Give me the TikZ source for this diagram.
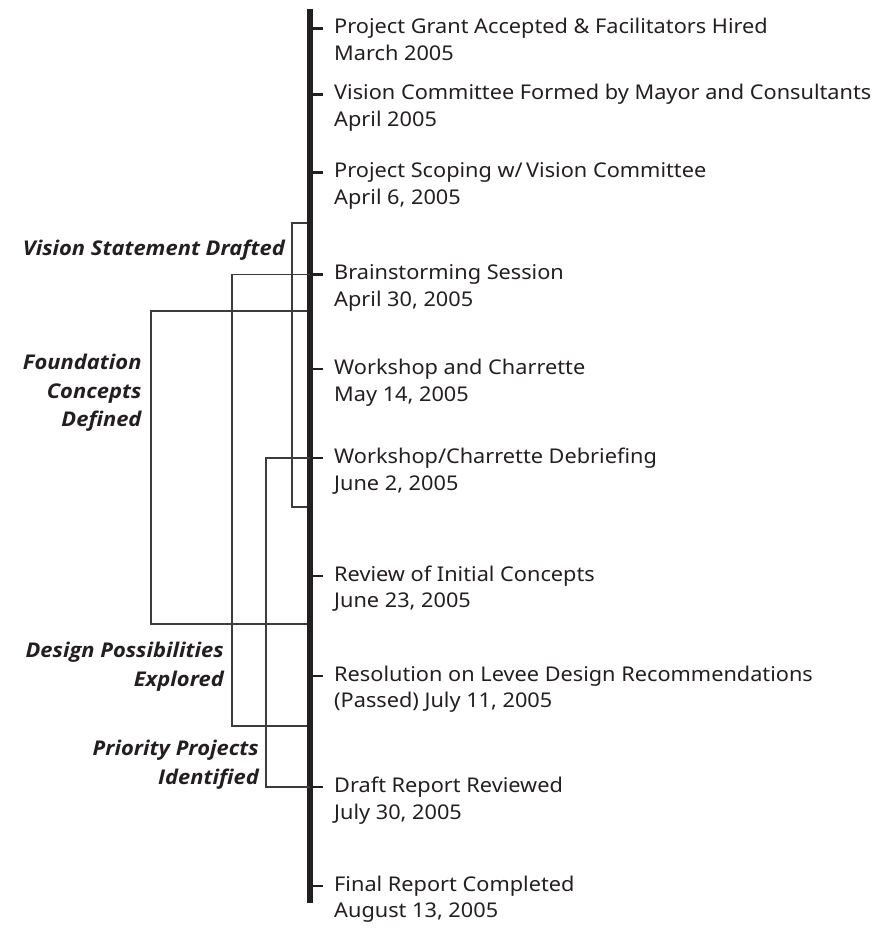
\documentclass[tikz,border=0pt]{standalone}
\usepackage{fontspec}
\setmainfont{Noto Sans}[FakeStretch=1.07]
\newfontfamily\phasefont{Open Sans}[FakeStretch=1.08]
\definecolor{ink}{HTML}{231F20}
\definecolor{brk}{HTML}{3C3C3C}
\begin{document}
\begin{tikzpicture}[x=1pt,y=-1pt,
  spine/.style={draw=ink,line width=6pt},
  tick/.style={draw=ink,line width=2.4pt},
  bracket/.style={draw=brk,line width=1.3pt},
  event/.style={anchor=base west,align=left,inner sep=0pt,text=ink,
    font=\fontsize{20.3}{26.5}\selectfont},
  phase/.style={anchor=base east,align=right,inner sep=0pt,text=ink,
    font=\phasefont\fontsize{20.3}{28.5}\selectfont\bfseries\itshape}]
\useasboundingbox (0,0) rectangle (894,930);
% spine
\coordinate (top) at (310,9);
\coordinate (bot) at (310,903);
\draw[spine] (top) -- (bot);
% events (node anchored on the baseline of its second line)
\foreach \n/\y in {1/28.3,2/94.3,3/172.3,4/274.3,5/369,6/458,7/575.7,8/675.7,9/787,10/885.7}{
  \coordinate (e\n) at (313,\y);
  \coordinate (t\n) at (323,\y);
  \coordinate (l\n) at (334,\y+32);
  \draw[tick] (e\n) -- (t\n);
}
\node[event] (n1) at (l1) {Project Grant Accepted \& Facilitators Hired\\March 2005};
\node[event] (n2) at (l2) {Vision Committee Formed by Mayor and Consultants\\April 2005};
\node[event] (n3) at (l3) {Project Scoping w/\,Vision Committee\\April 6, 2005};
\node[event] (n4) at (l4) {Brainstorming Session\\April 30, 2005};
\node[event] (n5) at (l5) {Workshop and Charrette\\May 14, 2005};
\node[event] (n6) at (l6) {Workshop/Charrette Debriefing\\June 2, 2005};
\node[event] (n7) at (l7) {Review of Initial Concepts\\June 23, 2005};
\node[event] (n8) at (l8) {Resolution on Levee Design Recommendations\\(Passed) July 11, 2005};
\node[event] (n9) at (l9) {Draft Report Reviewed\\July 30, 2005};
\node[event] (n10) at (l10) {Final Report Completed\\August 13, 2005};
% bracket end points on the spine
\coordinate (vsA) at (307,223);
\coordinate (vsB) at (307,507);
\coordinate (vsX) at (292,0);
\coordinate (dpA) at (310,274.3);
\coordinate (dpB) at (307,726);
\coordinate (dpX) at (232,0);
\coordinate (fcA) at (307,311);
\coordinate (fcB) at (307,624);
\coordinate (fcX) at (151,0);
\coordinate (ppA) at (310,458);
\coordinate (ppB) at (310,787);
\coordinate (ppX) at (266,0);
\draw[bracket] (fcA) -- (fcA -| fcX) -- (fcB -| fcX) -- (fcB);
\draw[bracket] (dpA) -- (dpA -| dpX) -- (dpB -| dpX) -- (dpB);
\draw[bracket] (ppA) -- (ppA -| ppX) -- (ppB -| ppX) -- (ppB);
\draw[bracket] (vsA) -- (vsA -| vsX) -- (vsB -| vsX) -- (vsB);
% phase labels (anchored on the baseline of the last line)
\node[phase] (p1) at (285,255) {Vision Statement Drafted};
\node[phase] (p2) at (141.7,426.5) {Foundation\\Concepts\\Defined};
\node[phase] (p3) at (224,686) {Design Possibilities\\Explored};
\node[phase] (p4) at (259,784) {Priority Projects\\Identified};
\end{tikzpicture}
\end{document}
